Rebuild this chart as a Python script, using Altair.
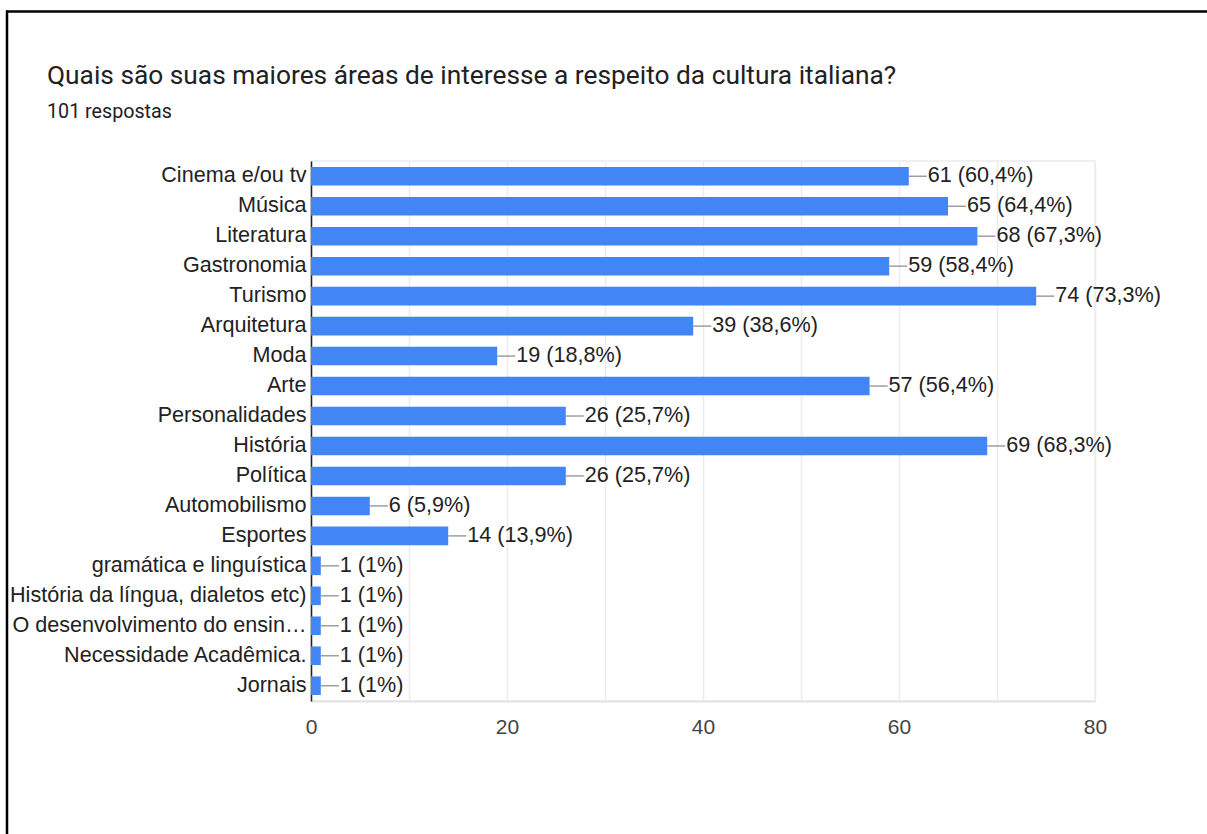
import altair as alt
import pandas as pd

categories = [
    "Cinema e/ou tv", "Música", "Literatura", "Gastronomia", "Turismo",
    "Arquitetura", "Moda", "Arte", "Personalidades", "História", "Política",
    "Automobilismo", "Esportes", "gramática e linguística",
    "História da língua, dialetos etc)", "O desenvolvimento do ensin…",
    "Necessidade Acadêmica.", "Jornais",
]
counts = [61, 65, 68, 59, 74, 39, 19, 57, 26, 69, 26, 6, 14, 1, 1, 1, 1, 1]
percents = [60.4, 64.4, 67.3, 58.4, 73.3, 38.6, 18.8, 56.4, 25.7, 68.3, 25.7,
            5.9, 13.9, 1, 1, 1, 1, 1]
x_ticks = [0, 10, 20, 30, 40, 50, 60, 70, 80]

title_text = "Quais são suas maiores áreas de interesse a respeito da cultura italiana?"
subtitle_text = "101 respostas"


def fmt_pct(p):
    s = ("%g" % p).replace(".", ",")
    return s + "%"


labels = [f"{c} ({fmt_pct(p)})" for c, p in zip(counts, percents)]

df = pd.DataFrame({"cat": categories, "count": counts, "label": labels})

W, H = 784, 540
PAD_L, PAD_T = 311, 161
PAD_R = 1207 - PAD_L - W
PAD_B = 834 - PAD_T - H

LABEL_FONT = "Liberation Sans"

y_enc = alt.Y(
    "cat:N",
    sort=categories,
    title=None,
    scale=alt.Scale(paddingInner=0.38, paddingOuter=0.2),
    axis=alt.Axis(
        labelFont=LABEL_FONT, labelFontSize=21.6, labelColor="#222222",
        labelPadding=5, ticks=False, domainColor="#222222", domainWidth=1.5,
        labelLimit=400, grid=False,
    ),
)
x_enc = alt.X(
    "count:Q",
    title=None,
    scale=alt.Scale(domain=[0, 80], nice=False),
    axis=alt.Axis(
        values=x_ticks,
        labelExpr="datum.value % 20 == 0 ? datum.label : ''",
        labelFont="Liberation Sans Narrow, Liberation Sans", labelFontSize=21,
        labelColor="#444444", labelPadding=15, ticks=False, labelFlush=False,
        domainColor="#e3e3e3", domainWidth=2,
        gridColor="#ececec", gridWidth=1.5,
    ),
)

base = alt.Chart(df)

bars = base.mark_bar(color="#4285F4").encode(x=x_enc, y=y_enc)

leaders = base.mark_rule(color="#9e9e9e", strokeWidth=1.5, x2Offset=18).encode(
    x="count:Q", x2="count:Q", y=alt.Y("cat:N", sort=categories)
)

values = base.mark_text(
    align="left", baseline="middle", dx=19, font=LABEL_FONT, fontSize=21.6,
    color="#222222",
).encode(x="count:Q", y=alt.Y("cat:N", sort=categories), text="label:N")

one = pd.DataFrame({"t": [title_text], "s": [subtitle_text]})

title_mark = alt.Chart(one).mark_text(
    align="left", baseline="alphabetic", font="Roboto", fontSize=26.3,
    color="#202124",
).encode(x=alt.value(47 - PAD_L), y=alt.value(84 - PAD_T), text="t:N")

subtitle_mark = alt.Chart(one).mark_text(
    align="left", baseline="alphabetic", font="Roboto", fontSize=19.7,
    color="#202124",
).encode(x=alt.value(47 - PAD_L), y=alt.value(118 - PAD_T), text="s:N")

frame_top = alt.Chart(one).mark_rule(color="#000000", strokeWidth=2.5).encode(
    x=alt.value(6 - PAD_L), x2=alt.value(1207 - PAD_L), y=alt.value(11.5 - PAD_T)
)
frame_left = alt.Chart(one).mark_rule(color="#000000", strokeWidth=2.5).encode(
    x=alt.value(7 - PAD_L), y=alt.value(10.5 - PAD_T), y2=alt.value(834 - PAD_T)
)

chart = (
    alt.layer(bars, leaders, values, title_mark, subtitle_mark, frame_top, frame_left)
    .properties(
        width=W, height=H,
        autosize=alt.AutoSizeParams(type="none"),
        padding={"left": PAD_L, "top": PAD_T, "right": PAD_R, "bottom": PAD_B},
        background="white",
    )
    .configure_view(stroke="#ececec", strokeWidth=1.5)
)

chart.save("out.html", embed_options={"renderer": "svg", "actions": False})
